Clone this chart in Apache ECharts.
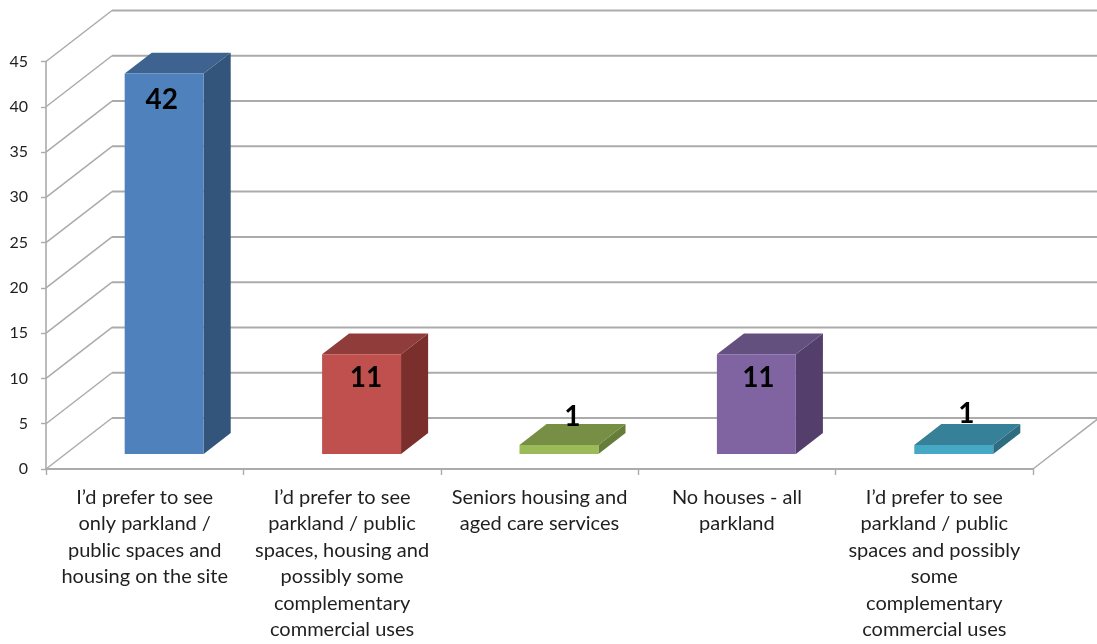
<!DOCTYPE html>
<html>
<head>
<meta charset="utf-8">
<style>html,body{margin:0;padding:0;background:#fff}#chart{width:1097px;height:644px}</style>
<script src="https://cdn.jsdelivr.net/npm/echarts@6/dist/echarts.min.js"></script>
</head>
<body>
<div id="chart"></div>
<script>
// Survey responses, one box per preference
const categories = [
  'I’d prefer to see\nonly parkland /\npublic spaces and\nhousing on the site',
  'I’d prefer to see\nparkland / public\nspaces, housing and\npossibly some\ncomplementary\ncommercial uses',
  'Seniors housing and\naged care services',
  'No houses - all\nparkland',
  'I’d prefer to see\nparkland / public\nspaces and possibly\nsome\ncomplementary\ncommercial uses'
];
const responses = [42, 11, 1, 11, 1];
const gridLevels = [0, 5, 10, 15, 20, 25, 30, 35, 40, 45];

// Front, top and side shades of each box
const frontColors = ['#4F81BD', '#C0504D', '#9BBB59', '#8064A2', '#45A9C6'];
const topColors = ['#3E6390', '#8F3C3A', '#768F44', '#63507F', '#368197'];
const sideColors = ['#33547B', '#7A2F2D', '#667C39', '#543F6C', '#2E6C7F'];

// Hand placement of the value labels relative to each box's front-top centre
const labelShiftX = [-2.5, 4.5, 13.5, 2, 12.5];
const labelShiftY = [26.5, 23.5, -28, 23.5, -31];

// Oblique projection: how far the back wall is shifted from the front plane
const DEPTH_X = 66;
const DEPTH_Y = -51;
const BOX_START = 0.295;  // where a box's front face sits, as a share of the depth
const BOX_DEPTH = 0.41;   // depth of a box, as a share of the depth
const BOX_WIDTH = 0.40;   // box width, as a share of the category band

const wallColor = '#ababab';

function renderWalls(params, api) {
  const level = api.value(0);
  const left = params.coordSys.x;
  const right = left + params.coordSys.width;
  const y = api.coord([0, level])[1];
  const diagonal = { stroke: wallColor, lineWidth: 1.5 };
  const children = [
    { type: 'line', shape: { x1: left, y1: y, x2: left + DEPTH_X, y2: y + DEPTH_Y }, style: diagonal },
    { type: 'line', shape: { x1: left + DEPTH_X, y1: y + DEPTH_Y, x2: right + DEPTH_X, y2: y + DEPTH_Y },
      style: { stroke: wallColor, lineWidth: 2 } }
  ];
  if (level === 0) {
    children.push({ type: 'line', shape: { x1: right, y1: y, x2: right + DEPTH_X, y2: y + DEPTH_Y }, style: diagonal });
  }
  return { type: 'group', children };
}

function renderBox(params, api) {
  const index = api.value(0);
  const value = api.value(1);
  const base = api.coord([index, 0]);
  const top = api.coord([index, value]);
  const w = api.size([1, 0])[0] * BOX_WIDTH;
  const sx = DEPTH_X * BOX_START, sy = DEPTH_Y * BOX_START;
  const dx = DEPTH_X * BOX_DEPTH, dy = DEPTH_Y * BOX_DEPTH;
  const x0 = base[0] - w / 2 + sx, x1 = x0 + w;
  const yb = base[1] + sy, yt = top[1] + sy;
  return {
    type: 'group',
    children: [
      { type: 'polygon', shape: { points: [[x1, yb], [x1 + dx, yb + dy], [x1 + dx, yt + dy], [x1, yt]] },
        style: { fill: sideColors[index] } },
      { type: 'polygon', shape: { points: [[x0, yt], [x1, yt], [x1 + dx, yt + dy], [x0 + dx, yt + dy]] },
        style: { fill: topColors[index] } },
      { type: 'rect', shape: { x: x0, y: yt, width: w, height: yb - yt },
        style: { fill: frontColors[index] } },
      { type: 'text', z2: 10,
        style: {
          x: x0 + w / 2 + labelShiftX[index],
          y: yt + labelShiftY[index],
          text: String(value),
          fill: '#000',
          font: 'bold 28px Lato',
          align: 'center',
          verticalAlign: 'middle'
        } }
    ]
  };
}

const chart = echarts.init(document.getElementById('chart'), null, { renderer: 'canvas' });
chart.setOption({
  animation: false,
  backgroundColor: '#fff',
  grid: { left: 46, right: 64, top: 61.5, bottom: 175, containLabel: false },
  xAxis: {
    type: 'category',
    data: categories,
    boundaryGap: true,
    axisLine: { show: true, lineStyle: { color: wallColor, width: 2 } },
    axisTick: { show: true, length: 6, alignWithLabel: false, lineStyle: { color: wallColor, width: 1.4 } },
    axisLabel: {
      interval: 0, margin: 15, lineHeight: 26.5,
      fontFamily: 'Lato', fontSize: 20, color: '#1f1f1f', align: 'center'
    },
    splitLine: { show: false }
  },
  yAxis: {
    type: 'value',
    min: 0, max: 45, interval: 5,
    axisLine: { show: true, lineStyle: { color: wallColor, width: 1.6 } },
    axisTick: { show: true, length: 5, lineStyle: { color: wallColor, width: 1.4 } },
    axisLabel: { margin: 18, fontFamily: 'Lato', fontSize: 16, color: '#1f1f1f' },
    splitLine: { show: false }
  },
  series: [
    {
      type: 'custom', coordinateSystem: 'cartesian2d', clip: false, silent: true, z: 1,
      renderItem: renderWalls,
      encode: { y: 0 },
      data: gridLevels.map(v => [v])
    },
    {
      type: 'custom', coordinateSystem: 'cartesian2d', clip: false, silent: true, z: 2,
      renderItem: renderBox,
      encode: { x: 0, y: 1 },
      data: responses.map((v, i) => [i, v])
    }
  ]
});
</script>
</body>
</html>
